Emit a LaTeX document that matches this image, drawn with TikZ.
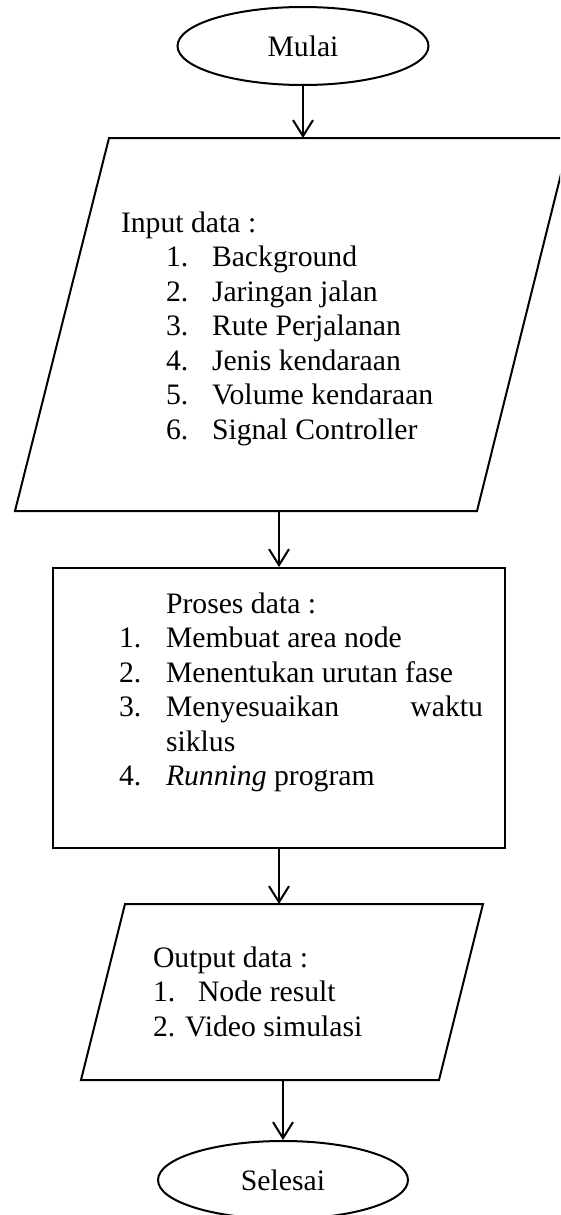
\documentclass[tikz,border=0pt]{standalone}
\usepackage{fontspec}
\setmainfont{Liberation Serif}
\usetikzlibrary{arrows.meta,shapes.geometric}

\begin{document}
\begin{tikzpicture}[
  x=1pt, y=-1pt,
  line width=2pt,
  every node/.style={font=\fontsize{29.7}{34.5}\selectfont},
  terminal/.style={draw, ellipse, inner sep=0pt, minimum width=251pt, minimum height=78pt},
  procbox/.style={draw, rectangle, inner sep=0pt, minimum width=452pt, minimum height=280pt},
  txt/.style={anchor=base west, inner sep=0pt},
  txtr/.style={anchor=base east, inner sep=0pt},
  arr/.style={-{Straight Barb[length=16pt,width=20pt]}}
]
\clip (0,0) rectangle (560,1215);

% start terminal
\node[terminal] (mulai) at (303,46) {Mulai};

% input parallelogram
\coordinate (inA) at (109,138);
\coordinate (inB) at (570,138);
\coordinate (inC) at (477,511);
\coordinate (inD) at (15,511);
\draw[line join=miter] (inA) -- (inB) -- (inC) -- (inD) -- cycle;

\node[txt] (inHead) at (120,232) {Input data :};
\foreach \n/\t [count=\i] in {1/Background, 2/Jaringan jalan, 3/Rute Perjalanan,
    4/Jenis kendaraan, 5/Volume kendaraan, 6/Signal Controller} {
  \node[txt] (inNum\i) at (165,{232+34.5*\i}) {\n.};
  \node[txt] (inItem\i) at (211,{232+34.5*\i}) {\t};
}

% process box
\node[procbox] (proc) at (279,708) {};
\node[txt] (prHead) at (165,613) {Proses data :};
\node[txt] (prNum1) at (118,647.5) {1.};
\node[txt] (prItem1) at (165,647.5) {Membuat area node};
\node[txt] (prNum2) at (118,682) {2.};
\node[txt] (prItem2) at (165,682) {Menentukan urutan fase};
\node[txt] (prNum3) at (118,716.5) {3.};
\node[txt] (prItem3) at (165,716.5) {Menyesuaikan};
\node[txtr] (prItem3b) at (484,716.5) {waktu};
\node[txt] (prItem3c) at (165,751) {siklus};
\node[txt] (prNum4) at (118,785.5) {4.};
\node[txt] (prItem4) at (165,785.5) {\textit{Running} program};

% output parallelogram
\coordinate (outA) at (125,904);
\coordinate (outB) at (483,904);
\coordinate (outC) at (439,1080);
\coordinate (outD) at (81,1080);
\draw[line join=miter] (outA) -- (outB) -- (outC) -- (outD) -- cycle;

\node[txt] (outHead) at (152,967) {Output data :};
\node[txt] (outNum1) at (152,1001.5) {1.};
\node[txt] (outItem1) at (197,1001.5) {Node result};
\node[txt] (outItem2) at (152,1036) {2. Video simulasi};

% end terminal
\node[terminal, minimum width=250pt] (selesai) at (283,1180) {Selesai};

% connectors
\draw[arr] (mulai.south) -- (mulai.south |- inA);
\draw[arr] (proc.north |- inD) -- (proc.north);
\draw[arr] (proc.south) -- (proc.south |- outA);
\draw[arr] (selesai.north |- outD) -- (selesai.north);
\end{tikzpicture}
\end{document}
